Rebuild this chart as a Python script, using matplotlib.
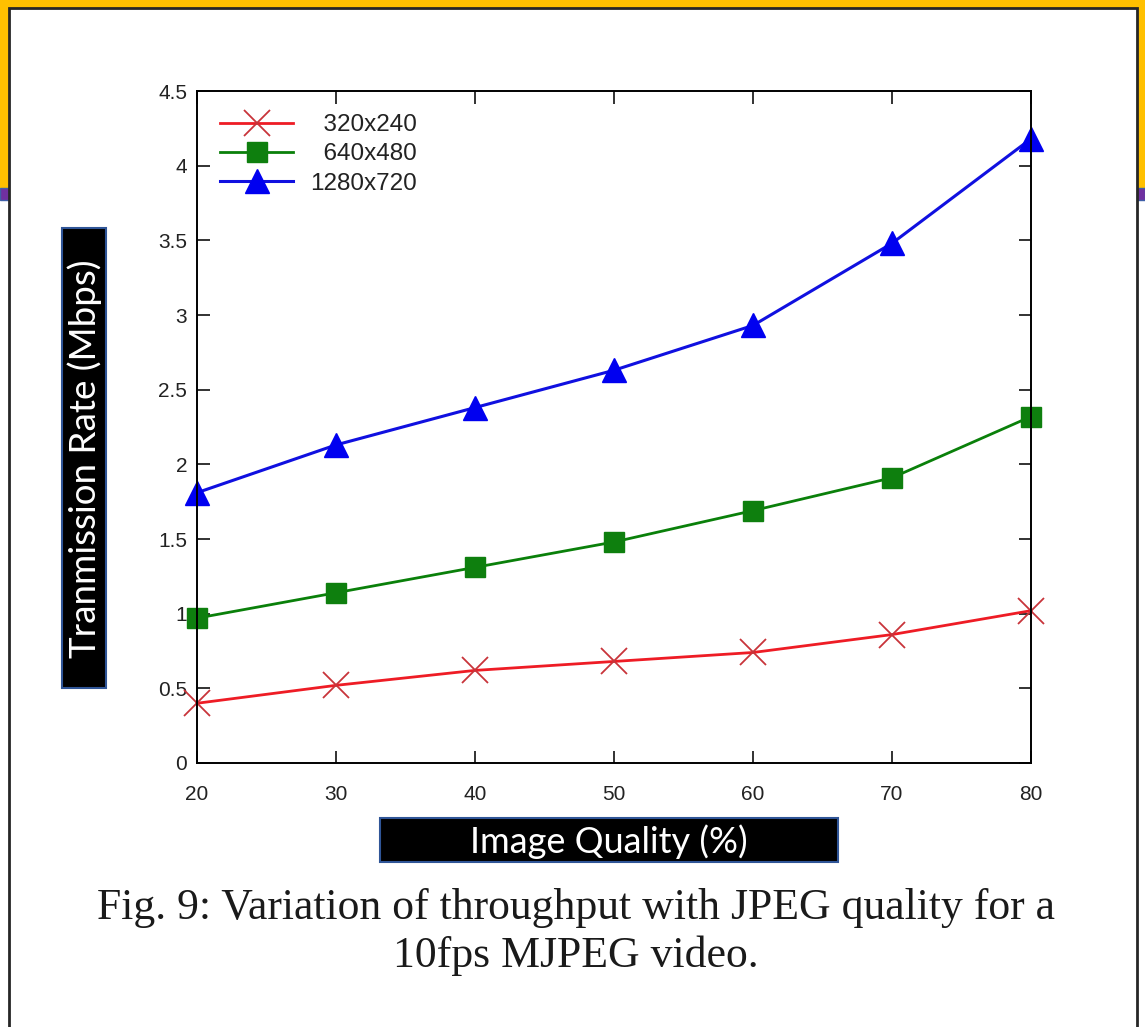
import matplotlib
matplotlib.use('Agg')
import matplotlib.pyplot as plt
from matplotlib.patches import Rectangle

quality = [20, 30, 40, 50, 60, 70, 80]
rate_320 = [0.40, 0.52, 0.62, 0.68, 0.74, 0.86, 1.02]
rate_640 = [0.97, 1.14, 1.31, 1.48, 1.69, 1.91, 2.32]
rate_1280 = [1.81, 2.13, 2.38, 2.63, 2.93, 3.48, 4.18]
labels = ['\u2007320x240', '\u2007640x480', '1280x720']
y_ticks = [0, 0.5, 1, 1.5, 2, 2.5, 3, 3.5, 4, 4.5]
y_tick_labels = ['0', '0.5', '1', '1.5', '2', '2.5', '3', '3.5', '4', '4.5']

W, H = 1145, 1027
fig = plt.figure(figsize=(W / 100, H / 100), dpi=100)
fig.patch.set_facecolor('white')

# slide background: gold header, purple band, white panel with dark border
fig.patches.append(Rectangle((0, 1 - 188 / H), 1, 188 / H, transform=fig.transFigure,
                             facecolor='#FFC000', edgecolor='none', zorder=0))
fig.patches.append(Rectangle((0, 1 - 200 / H), 1, 12 / H, transform=fig.transFigure,
                             facecolor='#7030A0', edgecolor='#3F5FA8', lw=1, zorder=0))
fig.patches.append(Rectangle((9 / W, -0.01), (1137 - 9) / W, (1027 - 8) / H + 0.01,
                             transform=fig.transFigure, facecolor='white',
                             edgecolor='#262626', lw=2, zorder=1))

ax = fig.add_axes([197 / W, 1 - 763 / H, (1031 - 197) / W, (763 - 91) / H])
ax.set_zorder(2)

ax.plot(quality, rate_320, color='#EE1C25', lw=2, marker='x', ms=19, mew=1.3,
        mec='#C8343A', label=labels[0], clip_on=False)
ax.plot(quality, rate_640, color='#0A800A', lw=2, marker='s', ms=14,
        mfc='#0E7F0E', mec='#0E7F0E', label=labels[1], clip_on=False)
ax.plot(quality, rate_1280, color='#1010E0', lw=2.2, marker='^', ms=17,
        mfc='#0000F0', mec='#0000F0', label=labels[2], clip_on=False)

ax.set_xlim(20, 80)
ax.set_ylim(0, 4.5)
ax.set_xticks(quality)
ax.set_yticks(y_ticks)
ax.set_yticklabels(y_tick_labels)
for s in ax.spines.values():
    s.set_linewidth(1.4)
ax.tick_params(direction='in', length=9, width=1.3, top=True, right=True,
               labelsize=15, colors='#222222')
ax.tick_params(axis='x', pad=16)
ax.tick_params(axis='y', pad=7)
for t in ax.get_xticklabels() + ax.get_yticklabels():
    t.set_family('Liberation Sans')

leg = ax.legend(loc='upper left', frameon=False, handlelength=3.0, handletextpad=0.7,
                labelspacing=0.3, borderaxespad=0.55,
                prop={'family': ['Liberation Sans', 'DejaVu Sans'], 'size': 17.5})
for t in leg.get_texts():
    t.set_color('#222222')

# axis captions in black boxes
fig.patches.append(Rectangle((62 / W, 1 - 688 / H), 44 / W, 460 / H, transform=fig.transFigure,
                             facecolor='black', edgecolor='#2F5597', lw=1.5, zorder=4))
fig.text(85 / W, 1 - 459 / H, 'Tranmission Rate (Mbps)', rotation=90, color='white',
         family='Lato', fontsize=26.5, ha='center', va='center', zorder=5)
fig.patches.append(Rectangle((380 / W, 1 - 862 / H), 458 / W, 44 / H, transform=fig.transFigure,
                             facecolor='black', edgecolor='#2F5597', lw=1.5, zorder=4))
fig.text(609 / W, 1 - 842 / H, 'Image Quality (%)', color='white', family='Lato',
         fontsize=26, ha='center', va='center', zorder=5)

fig.text(576 / W, 1 - 908 / H, 'Fig. 9: Variation of throughput with JPEG quality for a',
         family='Liberation Serif', fontsize=31.5, ha='center', va='center', color='#1a1a1a')
fig.text(576 / W, 1 - 956 / H, '10fps MJPEG video.',
         family='Liberation Serif', fontsize=31.5, ha='center', va='center', color='#1a1a1a')

fig.savefig('out.png', dpi=100)
